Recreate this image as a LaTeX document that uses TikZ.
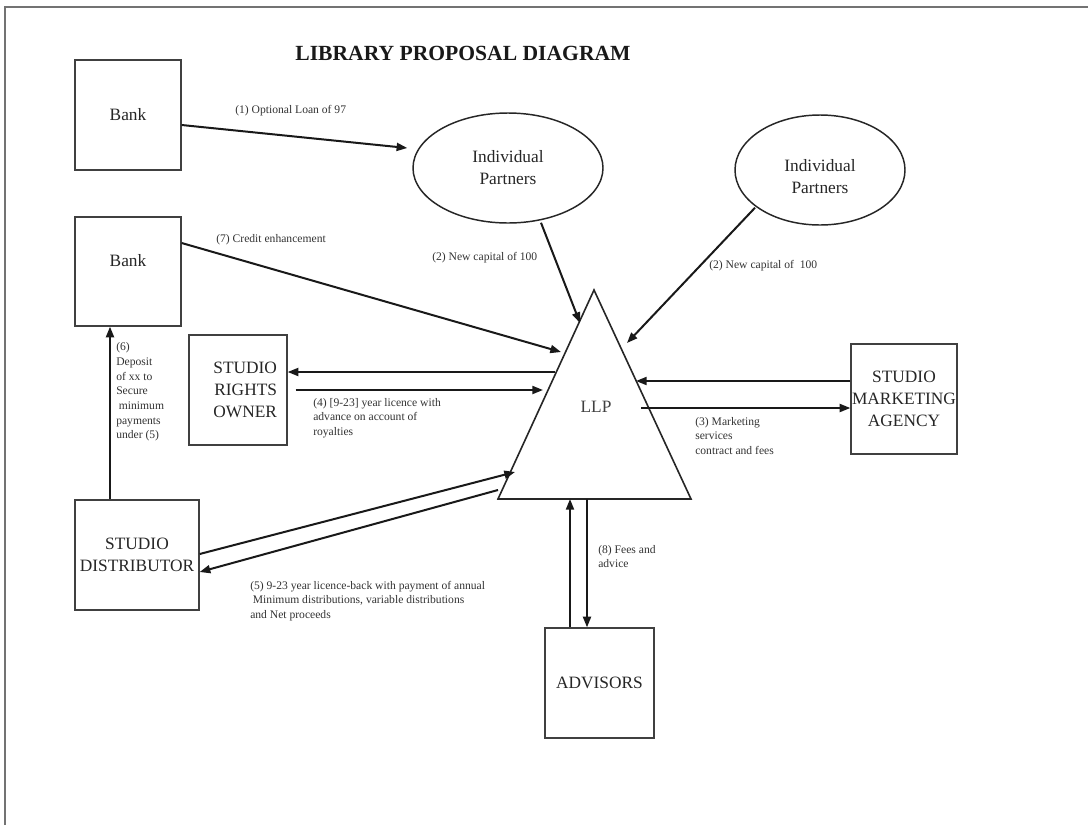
\documentclass[tikz,border=0pt]{standalone}
\usepackage{fontspec}
\setmainfont{Liberation Serif}
\usetikzlibrary{arrows.meta,calc,shapes.geometric}
\begin{document}
\begin{tikzpicture}[x=0.75pt,y=-0.75pt,
  box/.style={draw=black!75, line width=1pt, rectangle, inner sep=0pt, align=center,
    font=\fontsize{13}{16.5}\selectfont, text=black!85},
  oval/.style={draw=black!85, line width=1.1pt, ellipse, inner sep=0pt, align=center,
    font=\fontsize{13}{16.5}\selectfont, text=black!85},
  conn/.style={line width=1.5pt, draw=black!90, -{Triangle[length=8pt,width=6pt]}},
  lbl/.style={inner sep=0pt, anchor=west, align=left,
    font=\fontsize{8.7}{11}\selectfont, text=black!80},
]
\useasboundingbox (0,0) rectangle (1088,825);
\fill[white] (0,0) rectangle (1088,825);
\draw[black!55, line width=1.5pt] (5,825) -- (5,7) -- (1088,7);

% title
\node[font=\bfseries\fontsize{16.2}{19}\selectfont, text=black!90] (title) at (463,53) {LIBRARY PROPOSAL DIAGRAM};

% boxes
\node[box, minimum width=79.5pt, minimum height=82.5pt] (bank1) at (128,115) {Bank};
\node[box, minimum width=79.5pt, minimum height=81.75pt, text height=9pt, text depth=16.5pt] (bank2) at (128,271.5) {Bank};
\node[box, minimum width=73.5pt, minimum height=82.5pt, text width=58.5pt, align=right] (sro) at (238,390) {STUDIO\\RIGHTS\\OWNER};
\node[box, minimum width=93pt, minimum height=82.5pt] (sd) at (137,555) {STUDIO\\DISTRIBUTOR};
\node[box, minimum width=79.5pt, minimum height=82.5pt] (sma) at (904,399) {STUDIO\\MARKETING\\AGENCY};
\node[box, minimum width=81.75pt, minimum height=82.5pt] (adv) at (599.5,683) {ADVISORS};

% ellipses
\node[oval, minimum width=142.5pt, minimum height=82.5pt] (ip1) at (508,168) {Individual\\Partners};
\node[oval, minimum width=127.5pt, minimum height=82.5pt] (ip2) at (820,170)
  {\raisebox{-6pt}[\height][\depth]{\begin{tabular}{@{}c@{}}Individual\\Partners\end{tabular}}};

% triangle LLP
\coordinate (apex) at (594,290);
\coordinate (bl) at (498,499);
\coordinate (br) at (691,499);
\draw[black!85, line width=1.2pt, line join=miter] (apex) -- (bl) -- (br) -- cycle;
\node[font=\fontsize{13}{16.5}\selectfont, text=black!75] (llp) at (596,407) {LLP};

% triangle contact points
\coordinate (t7) at (561,352);
\coordinate (t2a) at (580,323);
\coordinate (t2b) at (627,343);
\coordinate (t4a) at (555,372);
\coordinate (t4b) at (543,390);
\coordinate (t3a) at (636,381);
\coordinate (t3b) at (641,408);
\coordinate (t5a) at (515,472);
\coordinate (t5b) at (498,490);
\coordinate (t8a) at (570,499);
\coordinate (t8b) at (587,499);

% connectors
\draw[conn] ($(bank1.east)+(0,10)$) -- ($(ip1.west)+(-5,-20)$);
\draw[conn] ($(bank2.east)+(0,-28.5)$) -- (t7);
\draw[conn] ($(ip1.south)+(33,-1)$) -- (t2a);
\draw[conn] ($(ip2.south)+(-65,-18)$) -- (t2b);
\draw[conn] (t4a) -- ($(sro.east)+(0,-18)$);
\draw[conn] ($(sro.east)+(8,0)$) -- (t4b);
\draw[conn] ($(sma.west)+(0,-18)$) -- (t3a);
\draw[conn] (t3b) -- ($(sma.west)+(0,9)$);
\draw[conn] ($(sd.north)+(-27,0)$) -- ($(bank2.south)+(-18,0)$);
\draw[conn] ($(sd.east)+(0,-1)$) -- (t5a);
\draw[conn] (t5b) -- ($(sd.east)+(0,17)$);
\draw[conn] ($(adv.north)+(-29.5,0)$) -- (t8a);
\draw[conn] (t8b) -- ($(adv.north)+(-12.5,0)$);

% labels
\node[lbl] (l1) at (235,111) {(1) Optional Loan of 97};
\node[lbl] (l7) at (216,240) {(7) Credit enhancement};
\node[lbl] (l2a) at (432,258) {(2) New capital of 100};
\node[lbl] (l2b) at (709,266) {(2) New capital of\ \ 100};
\node[lbl] (l4) at (313,418) {(4) [9-23] year licence with\\advance on account of\\royalties};
\node[lbl] (l3) at (695,436) {(3) Marketing\\services\\contract and fees};
\node[lbl] (l6) at (116,392) {(6)\\Deposit\\of xx to\\Secure\\\hspace{2pt}minimum\\payments\\under (5)};
\node[lbl] (l5) at (250,601) {(5) 9-23 year licence-back with payment of annual\\\hspace{2pt}Minimum distributions, variable distributions\\and Net proceeds};
\node[lbl] (l8) at (598,556.5) {(8) Fees and\\advice};
\end{tikzpicture}
\end{document}
